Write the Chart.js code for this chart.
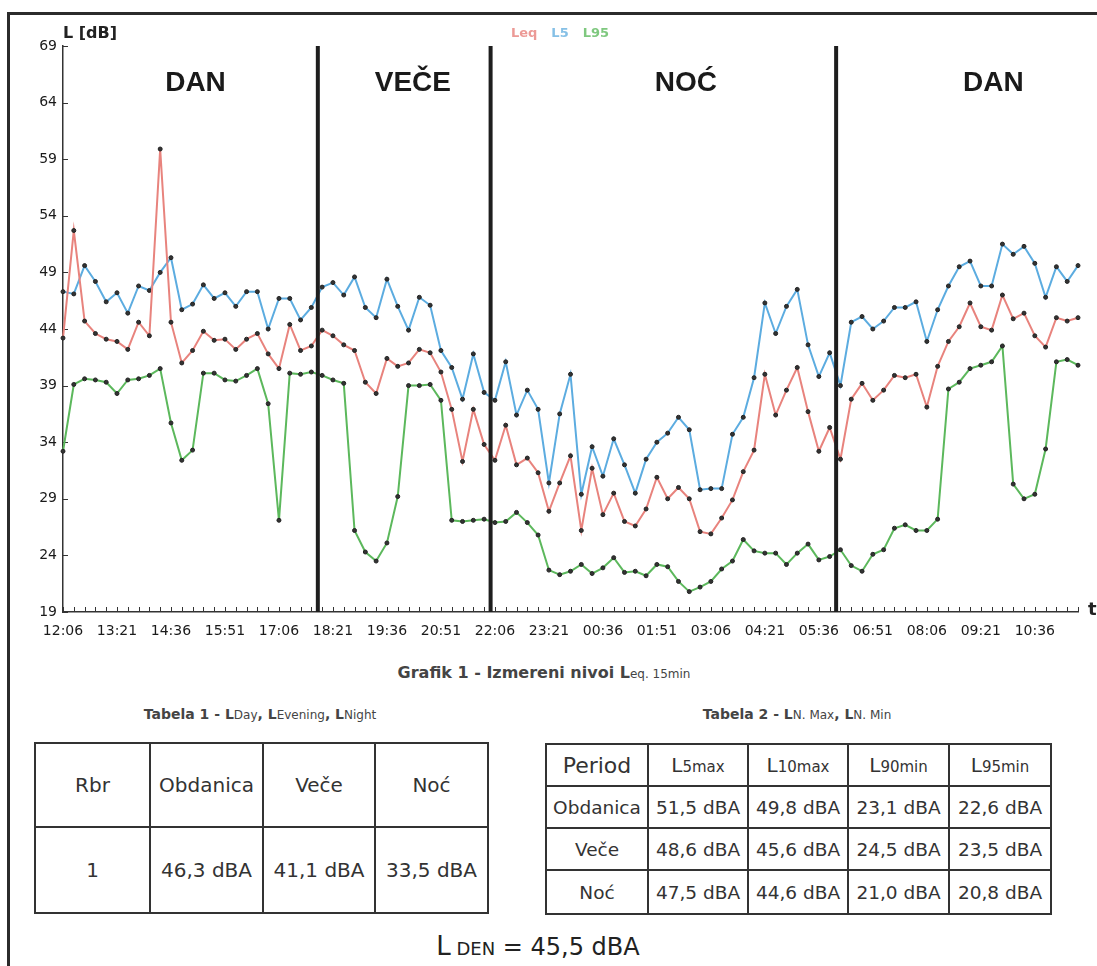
<!DOCTYPE html>
<html lang="sr">
  <head>
    <meta charset="UTF-8" />
    <title>Grafik 1 - Izmereni nivoi</title>
    <script src="https://cdn.jsdelivr.net/npm/chart.js"></script>
    <style>
      body {
        margin: 0;
        width: 1097px;
        height: 966px;
        overflow: hidden;
        background: #fff;
        font-family: "DejaVu Sans", sans-serif;
        color: #333;
        position: relative;
      }
      .frame {
        position: absolute;
        left: 7px;
        top: 12px;
        width: 1200px;
        height: 1000px;
        border-left: 3px solid #2b2b2b;
        border-top: 3px solid #2b2b2b;
      }
      #chartWrap {
        position: absolute;
        left: 0;
        top: 0;
      }
      .caption {
        position: absolute;
        font-weight: bold;
        font-size: 14px;
        color: #444;
        white-space: nowrap;
        transform: translate(-50%, -50%);
      }
      .caption small {
        font-weight: normal;
        font-size: 12px;
      }
      .caption.big {
        font-size: 16px;
      }
      .caption.big small {
        font-size: 12px;
      }
      table {
        position: absolute;
        border-collapse: collapse;
        table-layout: fixed;
        color: #333;
      }
      td {
        border: 2px solid #333;
        text-align: center;
        padding: 0;
        white-space: nowrap;
      }
      #t1 { left: 34px; top: 742px; font-size: 20px; }
      #t2 { left: 545px; top: 743px; font-size: 18.5px; }
      .sub { font-size: 15px; }
      .lden {
        position: absolute;
        left: 538px;
        top: 946px;
        transform: translate(-50%, -50%);
        font-size: 24px;
        color: #222;
        white-space: nowrap;
      }
    </style>
  </head>
  <body>
    <div class="frame"></div>
    <div id="chartWrap"><canvas id="lineChart" width="1097" height="650"></canvas></div>

    <div class="caption big" style="left: 544px; top: 672px">
      Grafik 1 - Izmereni nivoi L<small>eq. 15min</small>
    </div>
    <div class="caption" style="left: 260px; top: 714px">
      Tabela 1 - L<small>Day</small>, L<small>Evening</small>, L<small>Night</small>
    </div>
    <div class="caption" style="left: 797px; top: 714px">
      Tabela 2 - L<small>N. Max</small>, L<small>N. Min</small>
    </div>

    <table id="t1"></table>
    <table id="t2"></table>

    <div class="lden"><span style="font-size: 26px">L</span><span style="font-size: 18px"> DEN</span> = 45,5 dBA</div>

    <script>
      // vreme merenja (15 min intervali)
      const times = [
        "12:06", "12:21", "12:36", "12:51", "13:06", "13:21", "13:36", "13:51", "14:06", "14:21",
        "14:36", "14:51", "15:06", "15:21", "15:36", "15:51", "16:06", "16:21", "16:36", "16:51",
        "17:06", "17:21", "17:36", "17:51", "18:06", "18:21", "18:36", "18:51", "19:06", "19:21",
        "19:36", "19:51", "20:06", "20:21", "20:36", "20:51", "21:06", "21:21", "21:36", "21:51",
        "22:06", "22:21", "22:36", "22:51", "23:06", "23:21", "23:36", "23:51", "00:06", "00:21",
        "00:36", "00:51", "01:06", "01:21", "01:36", "01:51", "02:06", "02:21", "02:36", "02:51",
        "03:06", "03:21", "03:36", "03:51", "04:06", "04:21", "04:36", "04:51", "05:06", "05:21",
        "05:36", "05:51", "06:06", "06:21", "06:36", "06:51", "07:06", "07:21", "07:36", "07:51",
        "08:06", "08:21", "08:36", "08:51", "09:06", "09:21", "09:36", "09:51", "10:06", "10:21",
        "10:36", "10:51", "11:06", "11:21", "11:36",
      ];

      const leq = [
        43.2, 52.7, 44.7, 43.6, 43.1, 42.9, 42.2, 44.6, 43.4, 59.9,
        44.6, 41.0, 42.1, 43.8, 43.0, 43.1, 42.2, 43.1, 43.6, 41.8,
        40.5, 44.4, 42.1, 42.5, 43.9, 43.4, 42.6, 42.1, 39.3, 38.3,
        41.4, 40.7, 41.0, 42.2, 41.9, 40.2, 36.9, 32.3, 36.9, 33.8,
        32.4, 35.5, 32.0, 32.6, 31.3, 27.9, 30.4, 32.8, 26.2, 31.7,
        27.6, 29.5, 27.0, 26.6, 28.1, 30.9, 29.0, 30.0, 29.0, 26.1,
        25.9, 27.3, 28.9, 31.4, 33.3, 40.0, 36.4, 38.6, 40.6, 36.7,
        33.2, 35.3, 32.5, 37.8, 39.2, 37.7, 38.6, 39.9, 39.7, 40.0,
        37.1, 40.7, 42.9, 44.2, 46.3, 44.2, 43.9, 47.0, 44.9, 45.4,
        43.4, 42.4, 45.0, 44.7, 45.0,
      ];

      const l5 = [
        47.3, 47.1, 49.6, 48.2, 46.4, 47.2, 45.4, 47.8, 47.4, 49.0,
        50.3, 45.7, 46.2, 47.9, 46.7, 47.2, 46.0, 47.3, 47.3, 44.0,
        46.7, 46.7, 44.8, 45.9, 47.7, 48.1, 47.0, 48.6, 45.9, 45.0,
        48.4, 46.0, 43.9, 46.8, 46.1, 42.1, 40.6, 37.8, 41.8, 38.4,
        37.7, 41.1, 36.4, 38.6, 36.9, 30.4, 36.5, 40.0, 29.4, 33.6,
        31.0, 34.3, 32.0, 29.5, 32.5, 34.0, 34.8, 36.2, 35.1, 29.8,
        29.9, 29.9, 34.7, 36.2, 39.7, 46.3, 43.6, 46.0, 47.5, 42.6,
        39.8, 41.9, 39.0, 44.6, 45.1, 44.0, 44.7, 45.9, 45.9, 46.4,
        42.9, 45.7, 47.8, 49.5, 50.0, 47.8, 47.8, 51.5, 50.6, 51.3,
        49.8, 46.8, 49.5, 48.2, 49.6,
      ];

      const l95 = [
        33.2, 39.1, 39.6, 39.5, 39.3, 38.3, 39.5, 39.6, 39.9, 40.5,
        35.7, 32.4, 33.3, 40.1, 40.1, 39.5, 39.4, 39.9, 40.5, 37.4,
        27.1, 40.1, 40.0, 40.2, 39.9, 39.5, 39.2, 26.2, 24.3, 23.5,
        25.1, 29.2, 39.0, 39.0, 39.1, 37.7, 27.1, 27.0, 27.1, 27.2,
        26.9, 27.0, 27.8, 26.9, 25.8, 22.7, 22.3, 22.6, 23.2, 22.4,
        22.9, 23.8, 22.5, 22.6, 22.2, 23.2, 23.0, 21.7, 20.8, 21.2,
        21.7, 22.8, 23.5, 25.4, 24.4, 24.2, 24.2, 23.2, 24.2, 25.0,
        23.6, 23.9, 24.5, 23.1, 22.6, 24.1, 24.5, 26.4, 26.7, 26.2,
        26.2, 27.2, 38.7, 39.3, 40.5, 40.8, 41.1, 42.5, 30.3, 29.0,
        29.4, 33.4, 41.1, 41.3, 40.8,
      ];

      // granice perioda i nazivi
      const periodBounds = ["18:00", "22:00", "06:00"];
      const periodNames = ["DAN", "VEČE", "NOĆ", "DAN"];

      // tabele
      const t1Head = ["Rbr", "Obdanica", "Veče", "Noć"];
      const t1Row = ["1", "46,3 dBA", "41,1 dBA", "33,5 dBA"];
      const t2Head = ["Period", "L|5max", "L|10max", "L|90min", "L|95min"];
      const t2Rows = [
        ["Obdanica", "51,5 dBA", "49,8 dBA", "23,1 dBA", "22,6 dBA"],
        ["Veče", "48,6 dBA", "45,6 dBA", "24,5 dBA", "23,5 dBA"],
        ["Noć", "47,5 dBA", "44,6 dBA", "21,0 dBA", "20,8 dBA"],
      ];

      // --- tabele ---
      function colgroup(widths) {
        return "<colgroup>" + widths.map((w) => `<col style="width:${w}px">`).join("") + "</colgroup>";
      }
      document.getElementById("t1").innerHTML =
        colgroup([115, 113, 112, 113]) +
        `<tr style="height:84px">${t1Head.map((h) => `<td>${h}</td>`).join("")}</tr>` +
        `<tr style="height:86px">${t1Row.map((v) => `<td>${v}</td>`).join("")}</tr>`;

      const headCell = (h, i) => {
        if (i === 0) return `<td style="font-size:22px">${h}</td>`;
        const [a, b] = h.split("|");
        return `<td style="font-size:20px">${a}<span class="sub">${b}</span></td>`;
      };
      document.getElementById("t2").innerHTML =
        colgroup([102, 100, 100, 101, 102]) +
        `<tr style="height:42px">${t2Head.map(headCell).join("")}</tr>` +
        t2Rows
          .map((r, k) => `<tr style="height:${k === 2 ? 44 : 42}px">${r.map((v) => `<td>${v}</td>`).join("")}</tr>`)
          .join("");

      // --- grafik ---
      const toIndex = (t) => {
        const [h, m] = t.split(":").map(Number);
        const [h0, m0] = times[0].split(":").map(Number);
        let d = h * 60 + m - (h0 * 60 + m0);
        if (d < 0) d += 1440;
        return d / 15;
      };

      const colors = { leq: "#e8837d", l5: "#5cace0", l95: "#5cb85c" };
      const legendColors = { leq: "#ec9a96", l5: "#86c0e6", l95: "#7fc87f" };

      const overlay = {
        id: "overlay",
        beforeDatasetsDraw(chart) {
          const { ctx, chartArea: a, scales } = chart;
          ctx.save();
          ctx.strokeStyle = "#333";
          ctx.lineWidth = 1;
          ctx.beginPath();
          times.forEach((t, i) => {
            const px = Math.round(scales.x.getPixelForValue(i)) + 0.5;
            ctx.moveTo(px, a.bottom);
            ctx.lineTo(px, a.bottom - 5);
          });
          scales.y.ticks.forEach((tk) => {
            const py = Math.round(scales.y.getPixelForValue(tk.value)) + 0.5;
            ctx.moveTo(a.left, py);
            ctx.lineTo(a.left + 5, py);
          });
          ctx.stroke();
          ctx.restore();
        },
        afterDatasetsDraw(chart) {
          const { ctx, chartArea: a, scales } = chart;
          ctx.save();
          // granice perioda
          ctx.strokeStyle = "#1e1e1e";
          ctx.lineWidth = 4;
          periodBounds.forEach((b) => {
            const px = scales.x.getPixelForValue(toIndex(b));
            ctx.beginPath();
            ctx.moveTo(px, a.top);
            ctx.lineTo(px, a.bottom);
            ctx.stroke();
          });
          // nazivi perioda
          const spans = [0, ...periodBounds.map(toIndex), times.length - 1];
          const where = [0.52, 0.55, 0.565, 0.65];
          ctx.fillStyle = "#1a1a1a";
          ctx.font = "bold 28px 'Liberation Sans', Arial, sans-serif";
          ctx.textAlign = "center";
          ctx.textBaseline = "middle";
          periodNames.forEach((name, k) => {
            const idx = spans[k] + (spans[k + 1] - spans[k]) * where[k];
            ctx.fillText(name, scales.x.getPixelForValue(idx), 83);
          });
          // legenda
          ctx.font = "bold 13px 'DejaVu Sans', sans-serif";
          ctx.textAlign = "left";
          const items = chart.data.datasets.map((ds) => ({ text: ds.label, color: ds.legendColor }));
          const gap = 14;
          const total = items.reduce((s, it) => s + ctx.measureText(it.text).width, 0) + gap * (items.length - 1);
          let lx = 560 - total / 2;
          items.forEach((it) => {
            ctx.fillStyle = it.color;
            ctx.fillText(it.text, lx, 34);
            lx += ctx.measureText(it.text).width + gap;
          });
          // naslovi osa
          ctx.fillStyle = "#222";
          ctx.font = "bold 16px 'DejaVu Sans', sans-serif";
          ctx.fillText("L [dB]", a.left, 34);
          ctx.font = "bold 18px 'DejaVu Sans', sans-serif";
          ctx.fillText("t", 1088, a.bottom - 2);
          ctx.restore();
        },
      };

      const ds = (label, data, key) => ({
        label,
        data,
        borderColor: colors[key],
        legendColor: legendColors[key],
        borderWidth: 2,
        pointRadius: 2,
        pointBackgroundColor: "#333",
        pointBorderColor: "#222",
        pointBorderWidth: 1,
        tension: 0,
      });

      Chart.defaults.font.family = "'DejaVu Sans', sans-serif";

      new Chart(document.getElementById("lineChart"), {
        type: "line",
        data: {
          labels: times,
          datasets: [ds("Leq", leq, "leq"), ds("L5", l5, "l5"), ds("L95", l95, "l95")],
        },
        options: {
          responsive: false,
          animation: false,
          layout: { padding: { top: 46, right: 19, left: 0, bottom: 0 } },
          plugins: { legend: { display: false }, tooltip: { enabled: false } },
          scales: {
            x: {
              offset: false,
              grid: { display: false, drawTicks: false },
              border: { display: true, color: "#333", width: 1.5 },
              ticks: {
                autoSkip: false,
                maxRotation: 0,
                minRotation: 0,
                padding: 11,
                color: "#1a1a1a",
                font: { size: 14 },
                callback: (v, i) => (i % 5 === 0 ? times[i] : ""),
              },
              afterFit: (scale) => {
                scale.height = 38;
              },
            },
            y: {
              min: 19,
              max: 69,
              grid: { display: false, drawTicks: false },
              border: { display: true, color: "#333", width: 1.5 },
              ticks: { stepSize: 5, padding: 6, color: "#1a1a1a", font: { size: 14 } },
              afterFit: (scale) => {
                scale.width = 63;
              },
            },
          },
        },
        plugins: [overlay],
      });
    </script>
  </body>
</html>
